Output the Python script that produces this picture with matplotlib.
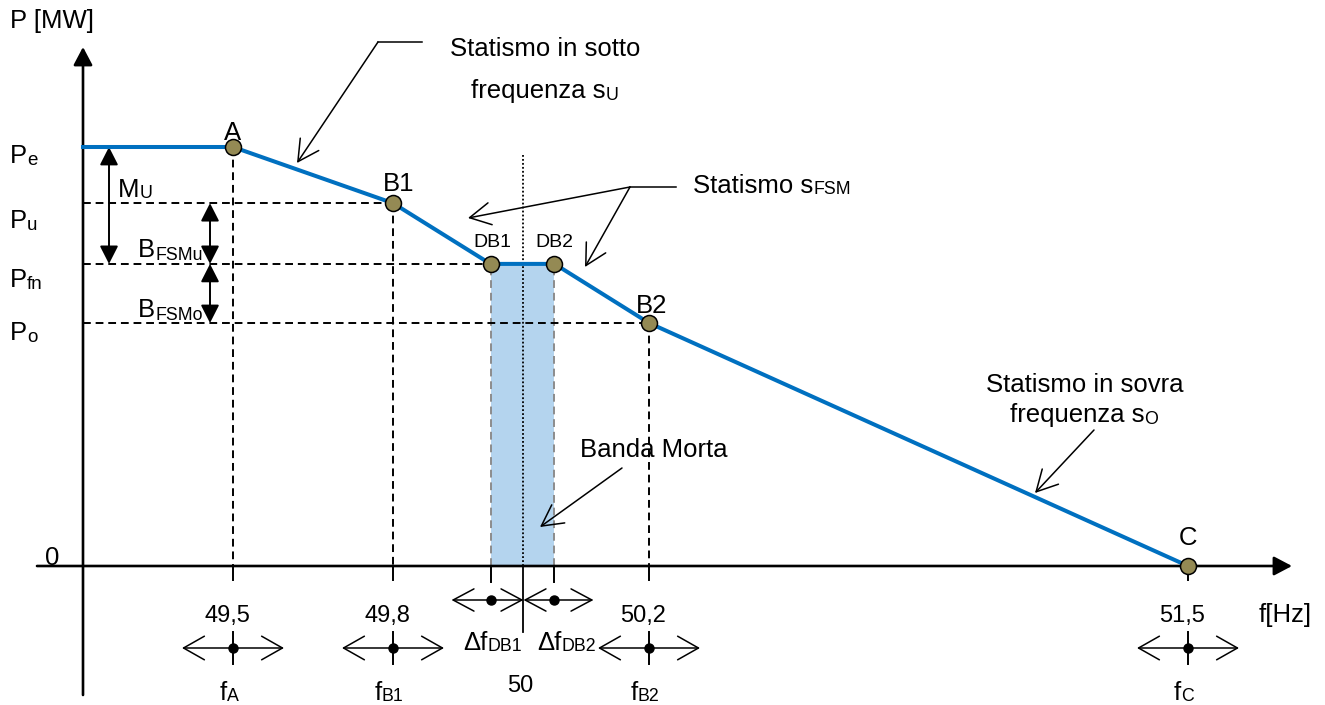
import numpy as np
import matplotlib
matplotlib.use("Agg")
import matplotlib.pyplot as plt
from matplotlib import transforms
from matplotlib.transforms import offset_copy, blended_transform_factory

plt.rcParams["font.family"] = ["Liberation Sans", "DejaVu Sans"]

# ---------------------------------------------------------------- data
point_names = ["A", "B1", "DB1", "DB2", "B2", "C"]
point_freq = [49.5, 49.8, 49.95, 50.05, 50.2, 51.5]          # Hz
point_power = [1.0, 0.866, 0.721, 0.721, 0.580, 0.0]         # per unit of Pe

power_levels = [1.0, 0.866, 0.721, 0.580, 0.0]               # Pe, Pu, Pfn, Po, 0
power_labels = [("P", "e"), ("P", "u"), ("P", "fn"), ("P", "o"), ("0", "")]

freq_ticks = [49.5, 49.8, 50.0, 50.2, 51.5]
freq_tick_labels = ["49,5", "49,8", "50", "50,2", "51,5"]
freq_names = ["A", "B1", None, "B2", "C"]

f_nominal = 50.0
dead_band = [49.95, 50.05]

# ---------------------------------------------------------------- figure
W, H = 1325, 705
fig = plt.figure(figsize=(W / 100, H / 100), dpi=100)
ax = fig.add_axes([0, 0, 1, 1])
ax.set_axis_off()

# schematic frequency axis: ticks are spread for readability, not to scale
TICK_PX = np.array([233.0, 393.0, 523.0, 649.0, 1188.0])
FT = np.array(freq_ticks)


def _pw(v, xs, ys):
    v = np.asarray(v, dtype=float)
    out = np.interp(v, xs, ys)
    sl = (ys[1] - ys[0]) / (xs[1] - xs[0])
    sr = (ys[-1] - ys[-2]) / (xs[-1] - xs[-2])
    out = np.where(v < xs[0], ys[0] + (v - xs[0]) * sl, out)
    out = np.where(v > xs[-1], ys[-1] + (v - xs[-1]) * sr, out)
    return out


def fwd(f):
    return _pw(f, FT, TICK_PX)


def inv(p):
    return _pw(p, TICK_PX, FT)


ax.set_xscale("function", functions=(fwd, inv))
ax.set_xlim(float(inv(0.0)), float(inv(W)))

Y_ZERO_PX, Y_PE_PX = 566.0, 147.0
unit = Y_ZERO_PX - Y_PE_PX
ax.set_ylim(-(H - Y_ZERO_PX) / unit, Y_ZERO_PX / unit)

# layout frame in pixels (origin top-left)
px = transforms.Affine2D().scale(1 / W, -1 / H).translate(0, 1) + fig.transFigure
fx_py = blended_transform_factory(ax.transData, px)   # x: frequency, y: pixels
px_fy = blended_transform_factory(px, ax.transData)   # x: pixels, y: power

AXIS_X = 83.0
f_axis = float(inv(AXIS_X))

BLUE = "#0070C0"
DASH = (0, (4, 2.5))
FS = 18.5
renderer = fig.canvas.get_renderer()


def rich(x, y, main, sub="", trans=None, size=FS, subsize=12.8, ha="left", drop=3):
    trans = px if trans is None else trans
    t1 = ax.text(x, y, main, fontsize=size, va="baseline", ha="left", transform=trans)
    w1 = t1.get_window_extent(renderer).width
    t2, w2 = None, 0.0
    if sub:
        t2 = ax.text(x, y, sub, fontsize=subsize, va="baseline", ha="left", transform=trans)
        w2 = t2.get_window_extent(renderer).width
    total = w1 + w2
    shift = {"left": 0.0, "center": -total / 2, "right": -total}[ha]
    t1.set_transform(offset_copy(trans, fig=fig, x=shift, y=0, units="dots"))
    if t2 is not None:
        t2.set_transform(offset_copy(trans, fig=fig, x=shift + w1, y=-drop, units="dots"))


def arrow(p_from, p_to, style, lw=1.1, trans_from=None, trans_to=None):
    ax.annotate("", xy=p_to, xycoords=trans_to or px, xytext=p_from,
                textcoords=trans_from or px,
                arrowprops=dict(arrowstyle=style, mutation_scale=1, shrinkA=0,
                                shrinkB=0, lw=lw, color="k"))


# ---------------------------------------------------------------- dead band
P_fn = point_power[2]
ax.fill_between(dead_band, 0, P_fn, color="#B4D4EE", lw=0, zorder=1)
for db in dead_band:
    ax.plot([db, db], [0, P_fn], color="#8C8C8C", ls=DASH, lw=1.4, zorder=2)
    ax.plot([db, db], [566, 582], transform=fx_py, color="k", lw=1.4, zorder=2)

# nominal frequency line
ax.plot([f_nominal, f_nominal], [155, 566], transform=fx_py, color="k",
        ls=(0, (1, 1.2)), lw=1.3, zorder=2)
ax.plot([f_nominal, f_nominal], [566, 632], transform=fx_py, color="k", lw=1.3, zorder=2)

# ---------------------------------------------------------------- guide lines
for name, f, p in zip(point_names, point_freq, point_power):
    if name in ("A", "B1", "B2"):
        ax.plot([f, f], [p, 0], color="k", ls=DASH, lw=1.4, zorder=2)
    if name in ("A", "B1", "B2", "C"):
        ax.plot([f, f], [566, 580], transform=fx_py, color="k", lw=1.4, zorder=2)
for name in ("B1", "DB1", "B2"):
    i = point_names.index(name)
    ax.plot([f_axis, point_freq[i]], [point_power[i]] * 2, color="k", ls=DASH,
            lw=1.4, zorder=2)

# ---------------------------------------------------------------- axes
arrow((AXIS_X, 695), (AXIS_X, 47), "-|>,head_length=11,head_width=5.8", lw=1.9)
arrow((37, Y_ZERO_PX), (1292, Y_ZERO_PX), "-|>,head_length=11,head_width=5.8", lw=1.9)

# ---------------------------------------------------------------- droop curve
ax.plot([f_axis] + point_freq, [power_levels[0]] + point_power, color=BLUE,
        lw=2.9, solid_joinstyle="round", zorder=4)
ax.plot(point_freq, point_power, "o", ms=11.5, mfc="#948A54", mec="k", mew=1.1,
        zorder=5)

label_dx = [0, 6, 2, 0, 3, 0]
label_dy = [7, 12, 17, 17, 10, 21]
for name, f, p, dx, dy in zip(point_names, point_freq, point_power, label_dx, label_dy):
    size = 14 if name.startswith("DB") else FS
    ax.text(f, p, name, fontsize=size, ha="center", va="baseline",
            transform=offset_copy(ax.transData, fig=fig, x=dx, y=dy, units="dots"))

# ---------------------------------------------------------------- power labels
label_base = [163, 228, 287, 340]
for (m, s), base in zip(power_labels[:4], label_base):
    rich(10, base, m, s, subsize=13.5, drop=2)
rich(45, 565, power_labels[4][0])
rich(10, 28, "P [MW]")

# margin arrows
P_e, P_u, P_o = power_levels[0], power_levels[1], power_levels[3]
big = "<|-|>,head_length=11,head_width=5.6"
arrow((109, P_e), (109, P_fn), big, lw=1.4, trans_from=px_fy, trans_to=px_fy)
arrow((210, P_u), (210, P_fn), big, lw=1.4, trans_from=px_fy, trans_to=px_fy)
arrow((210, P_fn), (210, P_o), big, lw=1.4, trans_from=px_fy, trans_to=px_fy)
rich(118, 197, "M", "U", drop=1)
rich(138, 257, "B", "FSMu", drop=3)
rich(138, 317, "B", "FSMo", drop=3)

# ---------------------------------------------------------------- frequency labels
for f, lab, nm in zip(freq_ticks, freq_tick_labels, freq_names):
    if nm is None:
        rich(fwd(f) - 3, 692, lab, size=17, ha="center")
        continue
    rich(fwd(f) - 6, 622, lab, size=17, ha="center")
    left = offset_copy(ax.transData, fig=fig, x=-51, y=0, units="dots")
    right = offset_copy(ax.transData, fig=fig, x=51, y=0, units="dots")
    yb = -(648 - Y_ZERO_PX) / unit
    ax.annotate("", xy=(f, yb), xycoords=left, xytext=(f, yb), textcoords=right,
                arrowprops=dict(arrowstyle="<->,head_length=15,head_width=8.5",
                                mutation_scale=1, shrinkA=0, shrinkB=0, lw=1.1, color="k"))
    ax.plot([f, f], [632, 664], transform=fx_py, color="k", lw=1.4)
    ax.plot([f], [648], "o", transform=fx_py, ms=6.5, color="k")
    rich(fwd(f) - 4, 700, "f", nm, ha="center", drop=1)

rich(1259, 622, "f[Hz]")

# dead-band half widths
yd = -(600 - Y_ZERO_PX) / unit
for db, lo, hi in ((dead_band[0], -39, 33), (dead_band[1], -31, 39)):
    a = offset_copy(ax.transData, fig=fig, x=lo, y=0, units="dots")
    b = offset_copy(ax.transData, fig=fig, x=hi, y=0, units="dots")
    ax.annotate("", xy=(db, yd), xycoords=a, xytext=(db, yd), textcoords=b,
                arrowprops=dict(arrowstyle="<->,head_length=15,head_width=8",
                                mutation_scale=1, shrinkA=0, shrinkB=0, lw=1.1, color="k"))
    ax.plot([db], [600], "o", transform=fx_py, ms=6.5, color="k")
rich(493, 650, "\u0394f", "DB1", ha="center", drop=1)
rich(567, 650, "\u0394f", "DB2", ha="center", drop=1)

# ---------------------------------------------------------------- callouts
thin = "->,head_length=15,head_width=8"
rich(545, 56, "Statismo in sotto", ha="center")
rich(545, 98, "frequenza s", "U", ha="center", drop=2)
ax.plot([422, 378], [42, 42], transform=px, color="k", lw=1.1)
arrow((378, 42), (297, 163), thin)

rich(693, 193, "Statismo s", "FSM", drop=1)
ax.plot([676, 630], [187, 187], transform=px, color="k", lw=1.1)
arrow((630, 187), (468, 218), thin)
arrow((630, 187), (585, 267), thin)

rich(1085, 392, "Statismo in sovra", ha="center")
rich(1084, 422, "frequenza s", "O", ha="center", drop=2)
arrow((1094, 430), (1035, 493), thin)

rich(654, 457, "Banda Morta", ha="center")
arrow((622, 468), (540, 527), thin)

fig.savefig("out.png", dpi=100)
